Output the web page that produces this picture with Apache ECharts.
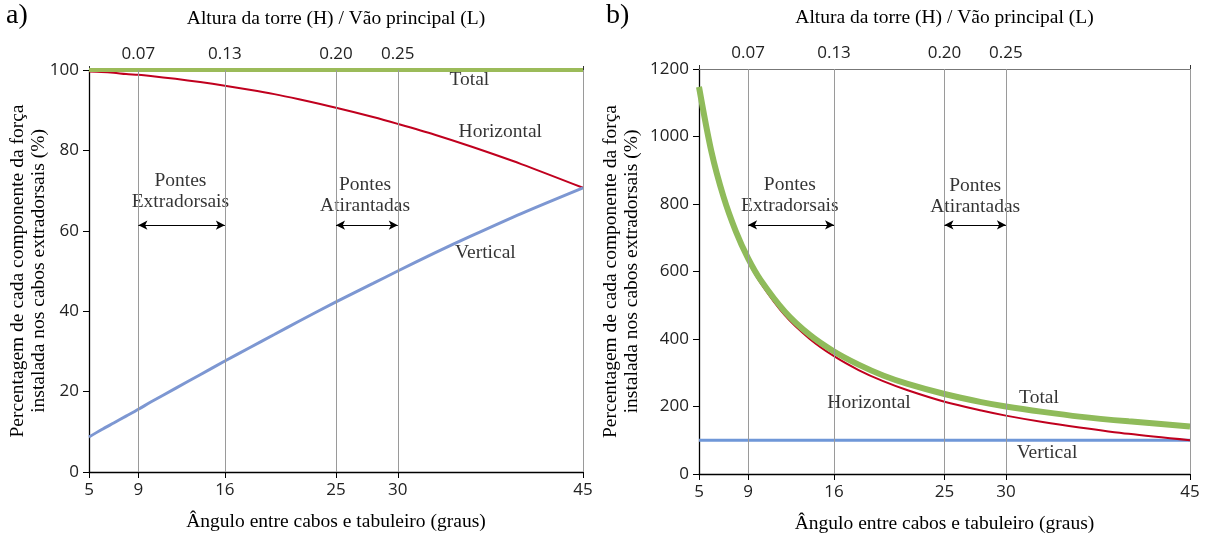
<!DOCTYPE html>
<html><head><meta charset="utf-8">
<script src="https://cdn.jsdelivr.net/npm/echarts@6/dist/echarts.min.js"></script>
<style>html,body{margin:0;padding:0;background:#fff}#c{width:1206px;height:536px}</style>
</head><body><div id="c"></div>
<script>
// ---- data ----
const angles = [5, 6, 7, 8, 9, 10, 12, 14, 16, 18, 20, 22, 25, 28, 30, 33, 36, 40, 45];
// panel a) percentages
const aTotal      = [100, 100, 100, 100, 100, 100, 100, 100, 100, 100, 100, 100, 100, 100, 100, 100, 100, 100, 100];
const aHorizontal = [99.6, 99.5, 99.3, 99.0, 98.8, 98.5, 97.8, 97.0, 96.1, 95.1, 94.0, 92.7, 90.6, 88.3, 86.6, 83.9, 80.9, 76.6, 70.7];
const aVertical   = [8.7, 10.5, 12.2, 13.9, 15.6, 17.4, 20.8, 24.2, 27.6, 30.9, 34.2, 37.5, 42.3, 46.9, 50.0, 54.5, 58.8, 64.3, 70.7];
// panel b) percentages
const bTotal      = [1147, 957, 821, 719, 639, 576, 481, 413, 363, 324, 292, 267, 237, 213, 200, 184, 170, 156, 141];
const bHorizontal = [1143, 951, 814, 712, 631, 567, 470, 401, 349, 308, 275, 248, 214, 188, 173, 154, 138, 119, 100];
const bVertical   = [100, 100, 100, 100, 100, 100, 100, 100, 100, 100, 100, 100, 100, 100, 100, 100, 100, 100, 100];
// axes
const bottomTicks = [5, 9, 16, 25, 30, 45];
const gridAngles  = [9, 16, 25, 30, 45];
const topTickAngles = [9, 16, 25, 30];
const topTickLabels = ['0.07', '0.13', '0.20', '0.25'];
const rangeLabels = ['Pontes\nExtradorsais', 'Pontes\nAtirantadas'];
const rangeFrom = [9, 25];
const rangeTo = [16, 30];

const SERIF = '"Liberation Serif", "Times New Roman", serif';
const SANS = '"Open Sans", "Noto Sans", sans-serif';
const zip = (xs, ys) => xs.map((x, i) => [x, ys[i]]);

function xAxes(gi) {
  return [
    {
      type: 'value', gridIndex: gi, position: 'bottom', min: 5, max: 45,
      name: 'Ângulo entre cabos e tabuleiro (graus)', nameLocation: 'middle', nameGap: 40,
      nameMoveOverlap: false,
      nameTextStyle: {fontFamily: SERIF, fontSize: 19.5, color: '#000'},
      axisLine: {show: true, lineStyle: {color: '#000', width: 1.3}},
      axisTick: {show: true, length: 6, customValues: bottomTicks, lineStyle: {color: '#000'}},
      axisLabel: {customValues: bottomTicks, fontFamily: SANS, fontSize: 17, color: '#222', margin: 10},
      splitLine: {show: false}
    },
    {
      type: 'value', gridIndex: gi, position: 'top', min: 5, max: 45,
      name: 'Altura da torre (H) / Vão principal (L)', nameLocation: 'middle', nameGap: 41,
      nameMoveOverlap: false,
      nameTextStyle: {fontFamily: SERIF, fontSize: 19.5, color: '#000'},
      axisLine: {show: true, lineStyle: {color: '#777', width: 1}},
      axisTick: {show: true, length: 4, customValues: [5, 45], lineStyle: {color: '#333'}},
      axisLabel: {customValues: topTickAngles, fontFamily: SANS, fontSize: 17, color: '#222', margin: 7,
        formatter: v => topTickLabels[topTickAngles.indexOf(v)] || ''},
      splitLine: {show: false}
    }
  ];
}

function yAxis(gi, max, interval, gap) {
  return {
    type: 'value', gridIndex: gi, min: 0, max: max, interval: interval,
    name: 'Percentagem de cada componente da força\ninstalada nos cabos extradorsais (%)',
    nameLocation: 'middle', nameGap: gap, nameRotate: 90, nameMoveOverlap: false,
    nameTextStyle: {fontFamily: SERIF, fontSize: 19.5, color: '#000', lineHeight: 21},
    axisLine: {show: true, lineStyle: {color: '#000', width: 1.3}},
    axisTick: {show: true, length: 6, lineStyle: {color: '#000'}},
    axisLabel: {fontFamily: SANS, fontSize: 17, color: '#222', margin: 10, formatter: v => String(v)},
    splitLine: {show: false}
  };
}

function guideSeries(xi, yi, arrowY) {
  return {
    type: 'line', xAxisIndex: xi, yAxisIndex: yi, data: [], silent: true,
    markLine: {
      silent: true, symbol: 'none', animation: false,
      label: {show: false},
      lineStyle: {color: '#9a9a9a', width: 1, type: 'solid'},
      data: gridAngles.map(a => ({xAxis: a})).concat(
        rangeFrom.map((f, i) => [
          {coord: [f, arrowY], symbol: 'arrow', symbolSize: [7, 9], lineStyle: {color: '#000', width: 1.2}},
          {coord: [rangeTo[i], arrowY], symbol: 'arrow', symbolSize: [7, 9]}
        ]))
    }
  };
}

function textSeries(xi, yi, items) {
  return {
    type: 'scatter', xAxisIndex: xi, yAxisIndex: yi, silent: true, symbolSize: 0,
    data: items.map(it => ({value: [it[0], it[1]], label: {show: true, formatter: it[2], position: 'inside',
      fontFamily: SERIF, fontSize: 19.5, color: '#000', lineHeight: 21}}))
  };
}

function line(xi, yi, data, color, width, z) {
  return {type: 'line', xAxisIndex: xi, yAxisIndex: yi, data: data, smooth: 0.3, showSymbol: false,
    silent: true, z: z, lineStyle: {color: color, width: width}};
}

const chart = echarts.init(document.getElementById('c'), null, {renderer: 'canvas'});
chart.setOption({
  animation: false,
  backgroundColor: '#fff',
  grid: [
    {left: 89, right: 623, top: 70, bottom: 64, outerBoundsMode: 'none', containLabel: false},
    {left: 699, right: 16, top: 69, bottom: 62, outerBoundsMode: 'none', containLabel: false}
  ],
  xAxis: xAxes(0).concat(xAxes(1)),
  yAxis: [yAxis(0, 100, 20, 40), yAxis(1, 1200, 200, 57)],
  graphic: [
    {type: 'text', left: 6, top: 2, style: {text: 'a)', font: '28px ' + SERIF, fill: '#000'}},
    {type: 'text', left: 606, top: 2, style: {text: 'b)', font: '28px ' + SERIF, fill: '#000'}}
  ],
  series: [
    guideSeries(0, 0, 61.4),
    guideSeries(2, 1, 738),
    line(0, 0, zip(angles, aHorizontal), '#c0001e', 2, 3),
    line(0, 0, zip(angles, aVertical), '#7d97d2', 3, 3),
    line(0, 0, zip(angles, aTotal), '#9bbb59', 4, 4),
    line(2, 1, zip(angles, bVertical), '#6f97d8', 3, 3),
    line(2, 1, zip(angles, bHorizontal), '#c0001e', 2, 3),
    line(2, 1, zip(angles, bTotal), '#8fbb5a', 6, 4),
    textSeries(0, 0, [
      [35.8, 97.5, 'Total'], [38.3, 84.6, 'Horizontal'], [37.1, 54.5, 'Vertical'],
      [12.4, 69.7, rangeLabels[0]], [27.35, 68.7, rangeLabels[1]]
    ]),
    textSeries(2, 1, [
      [32.7, 225, 'Total'], [18.85, 210, 'Horizontal'], [33.35, 62, 'Vertical'],
      [12.4, 827, rangeLabels[0]], [27.5, 824, rangeLabels[1]]
    ])
  ]
});
</script>
</body></html>
